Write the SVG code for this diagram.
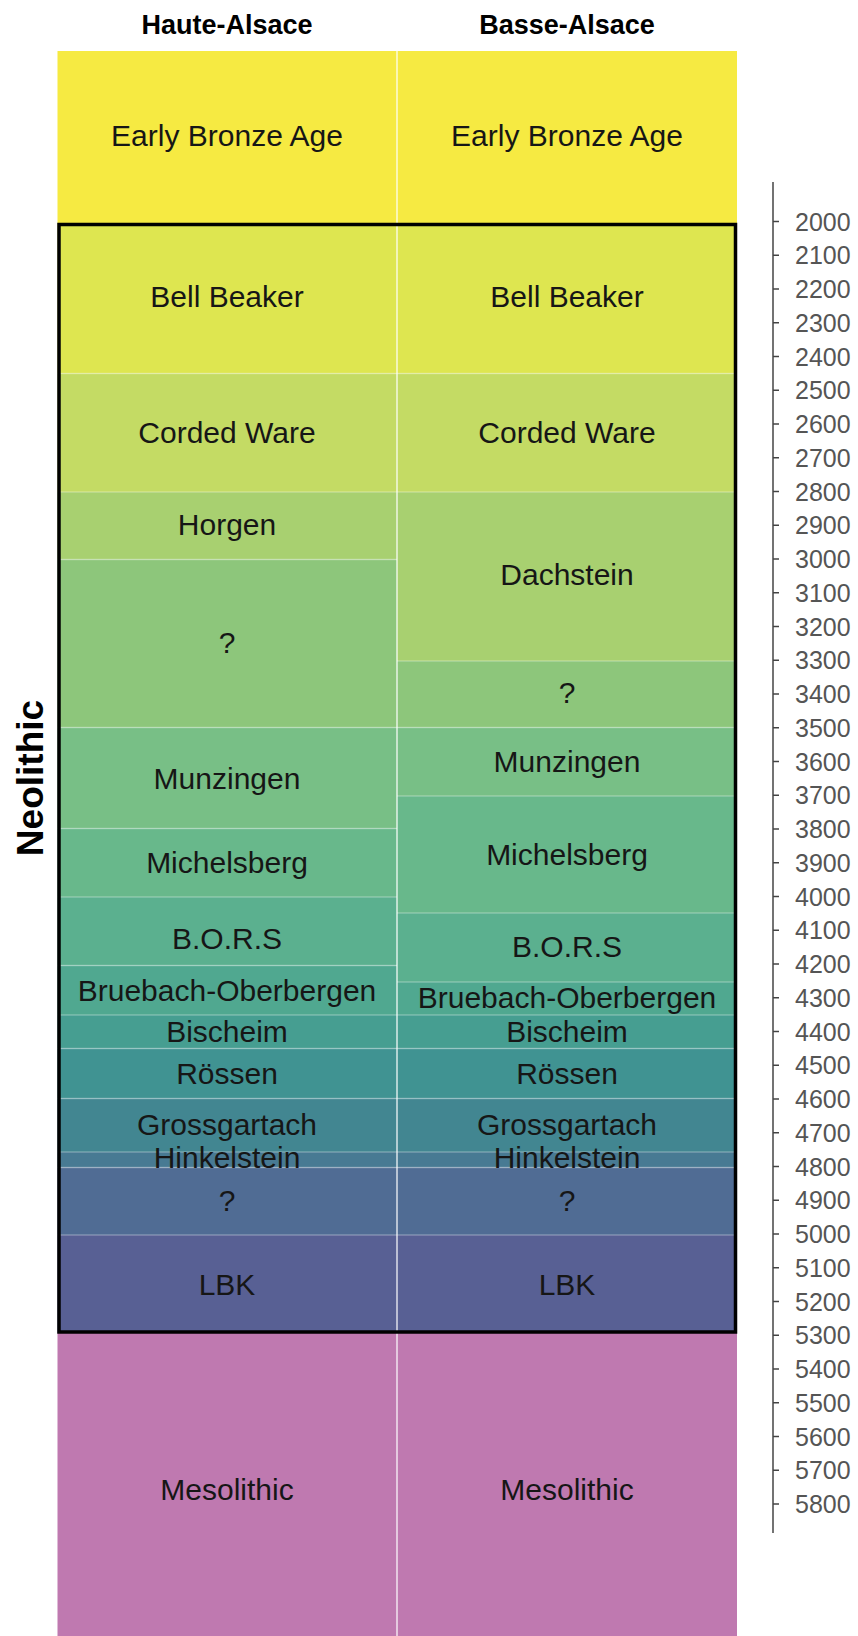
<svg xmlns="http://www.w3.org/2000/svg" width="858" height="1636" viewBox="0 0 858 1636">
<style>
.lb{font-family:"Liberation Sans",Arial,sans-serif;font-size:30px;text-anchor:middle;fill:#161616}
.big{font-family:"Liberation Sans",Arial,sans-serif;font-size:30px;text-anchor:middle;fill:#161616}
.hd{font-family:"Liberation Sans",Arial,sans-serif;font-size:27px;font-weight:bold;text-anchor:middle;fill:#000}
.ax{font-family:"Liberation Sans",Arial,sans-serif;font-size:25px;fill:#555}
.sep{stroke:#ffffff;stroke-opacity:0.28;stroke-width:1.5}
.tick{stroke:#444;stroke-width:1.5}
</style>
<rect width="858" height="1636" fill="#ffffff"/>
<g id="headers">
<text class="hd" x="227" y="34">Haute-Alsace</text>
<text class="hd" x="567" y="34">Basse-Alsace</text>
</g>
<g id="early-bronze-age">
<rect x="57.5" y="51" width="679.5" height="172" fill="#F6EA42"/>
<text class="big" x="227" y="146">Early Bronze Age</text>
<text class="big" x="567" y="146">Early Bronze Age</text>
</g>
<g id="haute-alsace">
<g id="L-bell-beaker"><rect x="57.5" y="223" width="339.5" height="150.5" fill="#DEE650"/><text class="lb" x="227" y="307">Bell Beaker</text></g>
<g id="L-corded-ware"><rect x="57.5" y="373.5" width="339.5" height="118.5" fill="#C4DB64"/><text class="lb" x="227" y="443">Corded Ware</text></g>
<g id="L-horgen"><rect x="57.5" y="492" width="339.5" height="67.5" fill="#A8D070"/><text class="lb" x="227" y="535">Horgen</text></g>
<g id="L-unknown-1"><rect x="57.5" y="559.5" width="339.5" height="168" fill="#8DC67B"/><text class="lb" x="227" y="653">?</text></g>
<g id="L-munzingen"><rect x="57.5" y="727.5" width="339.5" height="101" fill="#78BF86"/><text class="lb" x="227" y="789">Munzingen</text></g>
<g id="L-michelsberg"><rect x="57.5" y="828.5" width="339.5" height="68.5" fill="#68B88B"/><text class="lb" x="227" y="873">Michelsberg</text></g>
<g id="L-bors"><rect x="57.5" y="897" width="339.5" height="68.5" fill="#5BB08F"/><text class="lb" x="227" y="949">B.O.R.S</text></g>
<g id="L-bruebach"><rect x="57.5" y="965.5" width="339.5" height="49.5" fill="#50A890"/><text class="lb" x="227" y="1000.5">Bruebach-Oberbergen</text></g>
<g id="L-bischeim"><rect x="57.5" y="1015" width="339.5" height="33.5" fill="#469E91"/><text class="lb" x="227" y="1041.5">Bischeim</text></g>
<g id="L-rossen"><rect x="57.5" y="1048.5" width="339.5" height="50" fill="#409392"/><text class="lb" x="227" y="1084">Rössen</text></g>
<g id="L-grossgartach"><rect x="57.5" y="1098.5" width="339.5" height="53.5" fill="#428691"/></g>
<g id="L-hinkelstein"><rect x="57.5" y="1152" width="339.5" height="15.5" fill="#487A93"/></g>
<g id="L-unknown-2"><rect x="57.5" y="1167.5" width="339.5" height="67.5" fill="#506C94"/><text class="lb" x="227" y="1210.5">?</text></g>
<g id="L-lbk"><rect x="57.5" y="1235" width="339.5" height="98" fill="#586094"/><text class="lb" x="227" y="1295">LBK</text></g>
</g>
<g id="basse-alsace">
<g id="R-bell-beaker"><rect x="397" y="223" width="340" height="150.5" fill="#DEE650"/><text class="lb" x="567" y="307">Bell Beaker</text></g>
<g id="R-corded-ware"><rect x="397" y="373.5" width="340" height="118.5" fill="#C4DB64"/><text class="lb" x="567" y="443">Corded Ware</text></g>
<g id="R-dachstein"><rect x="397" y="492" width="340" height="169" fill="#A8D070"/><text class="lb" x="567" y="585">Dachstein</text></g>
<g id="R-unknown-1"><rect x="397" y="661" width="340" height="66.5" fill="#8DC67B"/><text class="lb" x="567" y="703">?</text></g>
<g id="R-munzingen"><rect x="397" y="727.5" width="340" height="68.5" fill="#78BF86"/><text class="lb" x="567" y="771.5">Munzingen</text></g>
<g id="R-michelsberg"><rect x="397" y="796" width="340" height="117" fill="#68B88B"/><text class="lb" x="567" y="865">Michelsberg</text></g>
<g id="R-bors"><rect x="397" y="913" width="340" height="69" fill="#5BB08F"/><text class="lb" x="567" y="956.5">B.O.R.S</text></g>
<g id="R-bruebach"><rect x="397" y="982" width="340" height="33" fill="#50A890"/><text class="lb" x="567" y="1008">Bruebach-Oberbergen</text></g>
<g id="R-bischeim"><rect x="397" y="1015" width="340" height="33.5" fill="#469E91"/><text class="lb" x="567" y="1041.5">Bischeim</text></g>
<g id="R-rossen"><rect x="397" y="1048.5" width="340" height="50" fill="#409392"/><text class="lb" x="567" y="1084">Rössen</text></g>
<g id="R-grossgartach"><rect x="397" y="1098.5" width="340" height="53.5" fill="#428691"/></g>
<g id="R-hinkelstein"><rect x="397" y="1152" width="340" height="15.5" fill="#487A93"/></g>
<g id="R-unknown-2"><rect x="397" y="1167.5" width="340" height="67.5" fill="#506C94"/><text class="lb" x="567" y="1210.5">?</text></g>
<g id="R-lbk"><rect x="397" y="1235" width="340" height="98" fill="#586094"/><text class="lb" x="567" y="1295">LBK</text></g>
</g>
<g id="mesolithic">
<rect x="57.5" y="1333" width="679.5" height="303" fill="#BF79B0"/>
<text class="big" x="227" y="1500">Mesolithic</text>
<text class="big" x="567" y="1500">Mesolithic</text>
</g>
<g id="separators">
<line class="sep" x1="57.5" y1="373.5" x2="737" y2="373.5"/>
<line class="sep" x1="57.5" y1="492" x2="737" y2="492"/>
<line class="sep" x1="57.5" y1="559.5" x2="397" y2="559.5"/>
<line class="sep" x1="397" y1="661" x2="737" y2="661"/>
<line class="sep" x1="57.5" y1="727.5" x2="737" y2="727.5"/>
<line class="sep" x1="397" y1="796" x2="737" y2="796"/>
<line class="sep" x1="57.5" y1="828.5" x2="397" y2="828.5"/>
<line class="sep" x1="57.5" y1="897" x2="397" y2="897"/>
<line class="sep" x1="397" y1="913" x2="737" y2="913"/>
<line class="sep" x1="57.5" y1="965.5" x2="397" y2="965.5"/>
<line class="sep" x1="397" y1="982" x2="737" y2="982"/>
<line class="sep" x1="57.5" y1="1015" x2="737" y2="1015"/>
<line class="sep" x1="57.5" y1="1048.5" x2="737" y2="1048.5"/>
<line class="sep" x1="57.5" y1="1098.5" x2="737" y2="1098.5"/>
<line class="sep" x1="57.5" y1="1152" x2="737" y2="1152"/>
<line class="sep" x1="57.5" y1="1167.5" x2="737" y2="1167.5"/>
<line class="sep" x1="57.5" y1="1235" x2="737" y2="1235"/>
<line x1="397" y1="51" x2="397" y2="1636" stroke="#ffffff" stroke-opacity="0.6" stroke-width="2"/>
</g>
<g id="overflow-labels">
<text class="lb" x="227" y="1135">Grossgartach</text>
<text class="lb" x="227" y="1168">Hinkelstein</text>
<text class="lb" x="567" y="1135">Grossgartach</text>
<text class="lb" x="567" y="1168">Hinkelstein</text>
</g>
<g id="neolithic">
<rect x="59" y="224.5" width="676.5" height="1107.5" fill="none" stroke="#000" stroke-width="3.5"/>
<text class="hd" style="font-size:37px" transform="translate(43 778) rotate(-90)" x="0" y="0">Neolithic</text>
</g>
<g id="axis">
<line x1="773" y1="182" x2="773" y2="1533" stroke="#444" stroke-width="1.5"/>
<g id="ticks">
<line class="tick" x1="773" y1="221.5" x2="779" y2="221.5"/><text class="ax" x="795" y="230.5">2000</text>
<line class="tick" x1="773" y1="255.25" x2="779" y2="255.25"/><text class="ax" x="795" y="264.25">2100</text>
<line class="tick" x1="773" y1="289" x2="779" y2="289"/><text class="ax" x="795" y="298">2200</text>
<line class="tick" x1="773" y1="322.75" x2="779" y2="322.75"/><text class="ax" x="795" y="331.75">2300</text>
<line class="tick" x1="773" y1="356.5" x2="779" y2="356.5"/><text class="ax" x="795" y="365.5">2400</text>
<line class="tick" x1="773" y1="390.25" x2="779" y2="390.25"/><text class="ax" x="795" y="399.25">2500</text>
<line class="tick" x1="773" y1="424" x2="779" y2="424"/><text class="ax" x="795" y="433">2600</text>
<line class="tick" x1="773" y1="457.75" x2="779" y2="457.75"/><text class="ax" x="795" y="466.75">2700</text>
<line class="tick" x1="773" y1="491.5" x2="779" y2="491.5"/><text class="ax" x="795" y="500.5">2800</text>
<line class="tick" x1="773" y1="525.25" x2="779" y2="525.25"/><text class="ax" x="795" y="534.25">2900</text>
<line class="tick" x1="773" y1="559" x2="779" y2="559"/><text class="ax" x="795" y="568">3000</text>
<line class="tick" x1="773" y1="592.75" x2="779" y2="592.75"/><text class="ax" x="795" y="601.75">3100</text>
<line class="tick" x1="773" y1="626.5" x2="779" y2="626.5"/><text class="ax" x="795" y="635.5">3200</text>
<line class="tick" x1="773" y1="660.25" x2="779" y2="660.25"/><text class="ax" x="795" y="669.25">3300</text>
<line class="tick" x1="773" y1="694" x2="779" y2="694"/><text class="ax" x="795" y="703">3400</text>
<line class="tick" x1="773" y1="727.75" x2="779" y2="727.75"/><text class="ax" x="795" y="736.75">3500</text>
<line class="tick" x1="773" y1="761.5" x2="779" y2="761.5"/><text class="ax" x="795" y="770.5">3600</text>
<line class="tick" x1="773" y1="795.25" x2="779" y2="795.25"/><text class="ax" x="795" y="804.25">3700</text>
<line class="tick" x1="773" y1="829" x2="779" y2="829"/><text class="ax" x="795" y="838">3800</text>
<line class="tick" x1="773" y1="862.75" x2="779" y2="862.75"/><text class="ax" x="795" y="871.75">3900</text>
<line class="tick" x1="773" y1="896.5" x2="779" y2="896.5"/><text class="ax" x="795" y="905.5">4000</text>
<line class="tick" x1="773" y1="930.25" x2="779" y2="930.25"/><text class="ax" x="795" y="939.25">4100</text>
<line class="tick" x1="773" y1="964" x2="779" y2="964"/><text class="ax" x="795" y="973">4200</text>
<line class="tick" x1="773" y1="997.75" x2="779" y2="997.75"/><text class="ax" x="795" y="1006.75">4300</text>
<line class="tick" x1="773" y1="1031.5" x2="779" y2="1031.5"/><text class="ax" x="795" y="1040.5">4400</text>
<line class="tick" x1="773" y1="1065.25" x2="779" y2="1065.25"/><text class="ax" x="795" y="1074.25">4500</text>
<line class="tick" x1="773" y1="1099" x2="779" y2="1099"/><text class="ax" x="795" y="1108">4600</text>
<line class="tick" x1="773" y1="1132.75" x2="779" y2="1132.75"/><text class="ax" x="795" y="1141.75">4700</text>
<line class="tick" x1="773" y1="1166.5" x2="779" y2="1166.5"/><text class="ax" x="795" y="1175.5">4800</text>
<line class="tick" x1="773" y1="1200.25" x2="779" y2="1200.25"/><text class="ax" x="795" y="1209.25">4900</text>
<line class="tick" x1="773" y1="1234" x2="779" y2="1234"/><text class="ax" x="795" y="1243">5000</text>
<line class="tick" x1="773" y1="1267.75" x2="779" y2="1267.75"/><text class="ax" x="795" y="1276.75">5100</text>
<line class="tick" x1="773" y1="1301.5" x2="779" y2="1301.5"/><text class="ax" x="795" y="1310.5">5200</text>
<line class="tick" x1="773" y1="1335.25" x2="779" y2="1335.25"/><text class="ax" x="795" y="1344.25">5300</text>
<line class="tick" x1="773" y1="1369" x2="779" y2="1369"/><text class="ax" x="795" y="1378">5400</text>
<line class="tick" x1="773" y1="1402.75" x2="779" y2="1402.75"/><text class="ax" x="795" y="1411.75">5500</text>
<line class="tick" x1="773" y1="1436.5" x2="779" y2="1436.5"/><text class="ax" x="795" y="1445.5">5600</text>
<line class="tick" x1="773" y1="1470.25" x2="779" y2="1470.25"/><text class="ax" x="795" y="1479.25">5700</text>
<line class="tick" x1="773" y1="1504" x2="779" y2="1504"/><text class="ax" x="795" y="1513">5800</text>
</g>
</g>
</svg>
